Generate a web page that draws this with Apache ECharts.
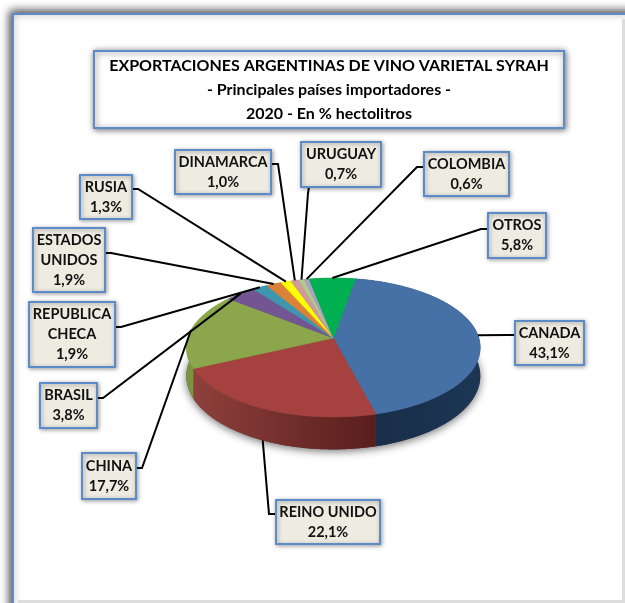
<!DOCTYPE html>
<html>
<head>
<meta charset="utf-8">
<style>html,body{margin:0;padding:0;background:#fff}#c{width:625px;height:603px}</style>
<script src="https://cdn.jsdelivr.net/npm/echarts@6/dist/echarts.min.js"></script>
</head>
<body>
<div id="c"></div>
<script>
// ---- data ----
const titleLines = ['EXPORTACIONES ARGENTINAS DE VINO VARIETAL SYRAH', '- Principales países importadores -', '2020 - En % hectolitros'];
const categories = ['CANADA', 'REINO UNIDO', 'CHINA', 'BRASIL', 'REPUBLICA\nCHECA', 'ESTADOS\nUNIDOS', 'RUSIA', 'DINAMARCA', 'URUGUAY', 'COLOMBIA', 'OTROS'];
const values = [43.1, 22.1, 17.7, 3.8, 1.9, 1.9, 1.3, 1.0, 0.7, 0.6, 5.8];
// ---- style ----
const topColors = ['#4671A6', '#A5423F', '#8BA64B', '#735593', '#3E97AE', '#DA8238', '#FFFF00', '#CF9A99', '#B6C691', '#A9A2C6', '#00B050'];
const wallColors = [['#182C47', '#1C3654'], ['#8F403C', '#581E1C'], ['#7A9440', '#7A9440'], ['#43315A', '#43315A'], ['#25606E', '#25606E'], ['#8A5020', '#8A5020'], ['#A0A000', '#A0A000'], ['#805F5F', '#805F5F'], ['#73805A', '#73805A'], ['#6A6680', '#6A6680'], ['#00702F', '#00702F']];
// ---- layout: label boxes [x0, y0, x1, y1] and leader elbow [x, y]s (same order as categories) ----
const boxes = [[515, 321, 584, 365], [276, 500, 380, 544], [82, 453, 136, 499], [40, 383, 97, 428], [29, 302, 115, 367], [33, 228, 105, 292], [80, 175, 132, 219], [175, 150, 271, 194], [301, 142, 381, 187], [424, 152, 509, 196], [488, 213, 546, 258]];
const leaderStart = [[515, 335], [276, 514], [136, 468], [97, 398], [115, 327], [105, 253], [132, 189], [271, 164], [309, 187], [424, 167], [488, 229]];
const leaderElbow = [[509, 335], [269, 514], [142, 468], [103, 398], [121, 327], [111, 253], [138, 189], [278, 164], [308, 193], [417, 167], [481, 229]];
const onWall = [false, true, false, false, false, false, false, false, false, false, false];

// ---- tilted-disc projection ----
const apex = [333.3, 338], K = 0.1367, A = 68.2, B = 145.6, DEPTH = 28, START = 10;
function project(deg, lower) {
  const t = deg * Math.PI / 180, u = Math.sin(t), v = -Math.cos(t), w = 1 - K * v;
  return [apex[0] + B * u / w, apex[1] + A * v / w + (lower ? DEPTH / w : 0)];
}
const total = values.reduce((a, b) => a + b, 0);
const starts = [];
values.reduce((acc, v, i) => { starts[i] = acc; return acc + v / total * 360; }, START);
function arc(a0, a1, lower) {
  const n = Math.max(2, Math.ceil(Math.abs(a1 - a0))), pts = [];
  for (let i = 0; i <= n; i++) pts.push(project(a0 + (a1 - a0) * i / n, lower));
  return pts;
}
const sweep = i => values[i] / total * 360;

const chart = echarts.init(document.getElementById('c'), null, { renderer: 'canvas' });
const font = 'Lato, Carlito, sans-serif';
chart.setOption({
  animation: false,
  backgroundColor: '#ffffff',
  title: {
    text: titleLines.join('\n'), left: 329, top: 54, textAlign: 'center', padding: 0, z: 5,
    textStyle: { fontFamily: font, fontWeight: 'bold', fontSize: 16, lineHeight: 24, color: '#000' }
  },
  graphic: [
    { type: 'rect', z: -5, shape: { x: 13, y: 14, width: 800, height: 800 }, style: { fill: '#fff', stroke: '#5B8CC9', lineWidth: 2, shadowBlur: 9, shadowColor: 'rgba(0,0,0,0.75)', shadowOffsetX: -2, shadowOffsetY: -2 } },
    { type: 'rect', z: -4, shape: { x: 622, y: 19, width: 3, height: 584 }, style: { fill: '#dcdcdc' } },
    { type: 'rect', z: -4, shape: { x: 18, y: 600, width: 607, height: 3 }, style: { fill: '#dcdcdc' } },
    { type: 'rect', z: 1, shape: { x: 94, y: 51, width: 470, height: 77 }, style: { fill: '#fff', stroke: '#5B8CC9', lineWidth: 2, shadowBlur: 6, shadowColor: 'rgba(0,0,0,0.55)', shadowOffsetX: 1, shadowOffsetY: 1 } }
  ],
  series: [
    { // soft cast shadow under the disc
      type: 'custom', coordinateSystem: 'none', z: 2, silent: true, data: [total],
      renderItem: () => ({
        type: 'polygon',
        shape: { points: arc(0, 360, true) },
        style: { fill: '#555', shadowBlur: 8, shadowColor: 'rgba(0,0,0,0.55)', shadowOffsetY: 2 }
      })
    },
    { // disc side wall
      type: 'custom', coordinateSystem: 'none', z: 3, silent: true, data: values,
      renderItem: (p) => {
        const i = p.dataIndex, a0 = starts[i], a1 = a0 + sweep(i);
        return {
          type: 'polygon',
          shape: { points: arc(a0, a1, false).concat(arc(a1, a0, true)) },
          style: { fill: new echarts.graphic.LinearGradient(0, 0, 1, 0, [{ offset: 0, color: wallColors[i][0] }, { offset: 1, color: wallColors[i][1] }]) }
        };
      }
    },
    { // disc top surface
      type: 'custom', coordinateSystem: 'none', z: 4, silent: true, data: values,
      renderItem: (p) => {
        const i = p.dataIndex, a0 = starts[i], a1 = a0 + sweep(i);
        return {
          type: 'polygon',
          shape: { points: [apex].concat(arc(a0, a1, false)) },
          style: { fill: topColors[i], stroke: topColors[i], lineWidth: 0.5 }
        };
      }
    },
    { // callouts
      type: 'custom', coordinateSystem: 'none', z: 6, silent: true, data: values,
      renderItem: (p) => {
        const i = p.dataIndex, b = boxes[i];
        const end = project(starts[i] + sweep(i) / 2, onWall[i]);
        return {
          type: 'group',
          children: [
            { type: 'polyline', shape: { points: [leaderStart[i], leaderElbow[i], end] }, style: { stroke: '#000', lineWidth: 2, fill: null } },
            { type: 'rect', shape: { x: b[0], y: b[1], width: b[2] - b[0], height: b[3] - b[1] }, style: { fill: '#EEECE1', stroke: '#5B8CC9', lineWidth: 2, shadowBlur: 4, shadowColor: 'rgba(0,0,0,0.35)', shadowOffsetX: 1, shadowOffsetY: 1 } },
            { type: 'text', style: {
              x: (b[0] + b[2]) / 2, y: (b[1] + b[3]) / 2, align: 'center', verticalAlign: 'middle',
              text: categories[i] + '\n' + values[i].toFixed(1).replace('.', ',') + '%',
              font: 'bold 14.5px ' + font, lineHeight: 20, fill: '#111'
            } }
          ]
        };
      }
    }
  ]
});
</script>
</body>
</html>
